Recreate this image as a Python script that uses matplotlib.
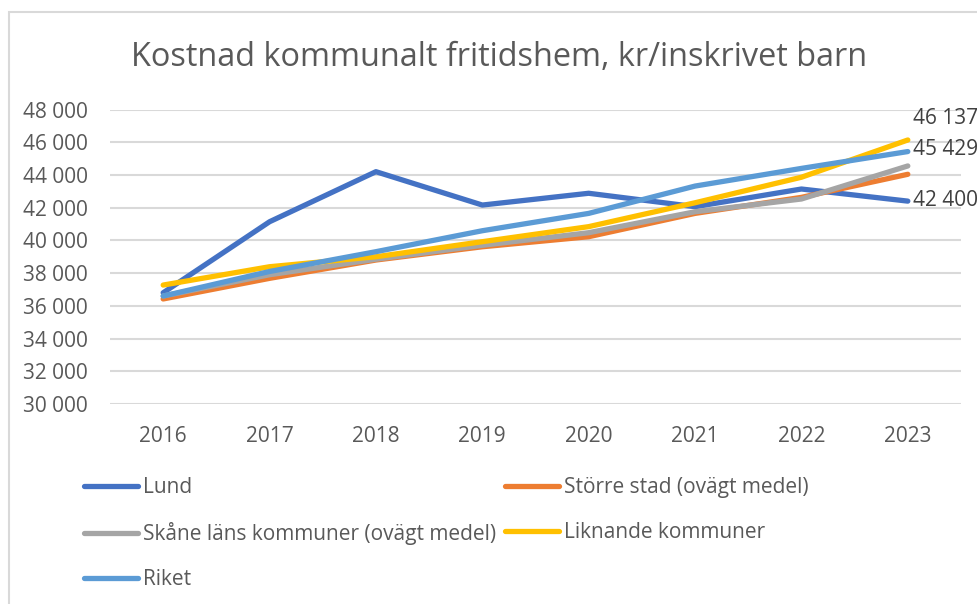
import matplotlib.pyplot as plt
from matplotlib.patches import Rectangle
from matplotlib.ticker import FuncFormatter

years = ['2016', '2017', '2018', '2019', '2020', '2021', '2022', '2023']
lund = [36800, 41140, 44200, 42160, 42880, 42060, 43140, 42400]
storre_stad = [36420, 37680, 38800, 39610, 40225, 41650, 42630, 44040]
skane = [36600, 37900, 38850, 39700, 40470, 41750, 42530, 44550]
liknande = [37270, 38390, 39000, 39920, 40840, 42300, 43860, 46137]
riket = [36600, 38100, 39310, 40590, 41650, 43320, 44400, 45429]

series = [
    ('Lund', lund, '#4472C4'),
    ('Större stad (ovägt medel)', storre_stad, '#ED7D31'),
    ('Skåne läns kommuner (ovägt medel)', skane, '#A5A5A5'),
    ('Liknande kommuner', liknande, '#FFC000'),
    ('Riket', riket, '#5B9BD5'),
]

plt.rcParams['font.family'] = ['Open Sans', 'DejaVu Sans']

fig = plt.figure(figsize=(9.78, 6.04), dpi=100)
ax = fig.add_axes([110 / 978, 1 - 404 / 604, 851 / 978, 294.5 / 604])

# chart frame (partly cut off at right/bottom)
fig.patches.append(Rectangle((9 / 978, -0.1), 2, 1 - 12 / 604 + 0.1,
                             transform=fig.transFigure, fill=False,
                             edgecolor='#d9d9d9', linewidth=1.5))

x = list(range(len(years)))
lines = {}
for name, vals, col in series:
    ln, = ax.plot(x, vals, color=col, linewidth=3.8, solid_capstyle='round',
                  solid_joinstyle='round', label=name)
    lines[name] = ln

ax.set_xlim(-0.5, 7.5)
ax.set_ylim(30000, 48000)
ax.set_yticks(range(30000, 48001, 2000))
ax.yaxis.set_major_formatter(FuncFormatter(lambda v, p: f'{int(v):,}'.replace(',', ' ')))
ax.set_xticks(x)
ax.set_xticklabels(years)
ax.tick_params(axis='both', length=0, labelsize=15, labelcolor='#595959')
ax.tick_params(axis='y', pad=16)
ax.tick_params(axis='x', pad=16)
ax.grid(axis='y', color='#d9d9d9', linewidth=1.5)
ax.set_axisbelow(True)
for s in ax.spines.values():
    s.set_visible(False)

# end labels
for vals, dy in [(liknande, 21), (riket, 2), (lund, 1)]:
    ax.annotate(f'{vals[-1]:,}'.replace(',', ' '), (7, vals[-1]),
                xytext=(5, dy), textcoords='offset pixels',
                ha='left', va='center', fontsize=15, color='#404040',
                annotation_clip=False)

fig.text(0.51, 1 - 57 / 604, 'Kostnad kommunalt fritidshem, kr/inskrivet barn',
         ha='center', va='center', fontsize=23.4, color='#595959')

order = ['Lund', 'Skåne läns kommuner (ovägt medel)', 'Riket',
         'Större stad (ovägt medel)', 'Liknande kommuner']
fig.legend([lines[n] for n in order], order, ncol=2, frameon=False,
           loc='upper left', bbox_to_anchor=(84 / 978, 1 - 477 / 604),
           fontsize=15, labelcolor='#595959', handlelength=2.6,
           handletextpad=0.22, columnspacing=0.45, labelspacing=1.15,
           borderaxespad=0, borderpad=0)

fig.savefig('out.png', dpi=100)
